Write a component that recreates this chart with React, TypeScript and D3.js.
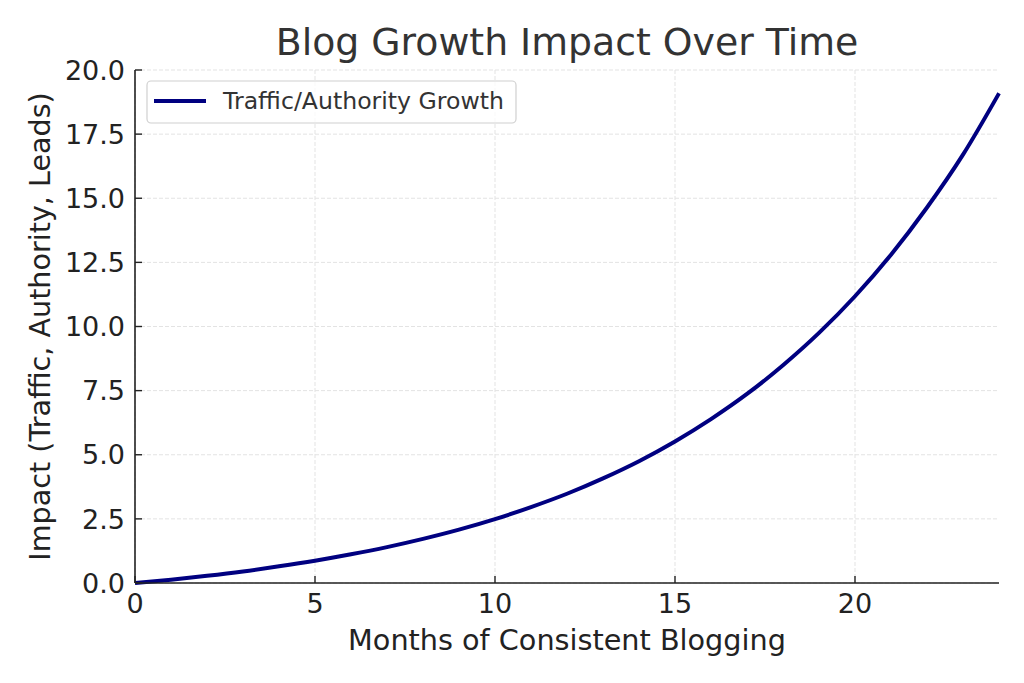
import React from "react";
import * as d3 from "d3";

const months = [0,1,2,3,4,5,6,7,8,9,10,11,12,13,14,15,16,17,18,19,20,21,22,23,24];
const impact = [0,0.13,0.28,0.45,0.65,0.87,1.12,1.40,1.72,2.08,2.49,2.96,3.48,4.08,4.75,5.52,6.39,7.37,8.49,9.75,11.18,12.80,14.64,16.70,19.09];
const xTicks = [0,5,10,15,20];
const yTicks = [0,2.5,5,7.5,10,12.5,15,17.5,20];
const title = "Blog Growth Impact Over Time";
const xLabel = "Months of Consistent Blogging";
const yLabel = "Impact (Traffic, Authority, Leads)";
const seriesName = "Traffic/Authority Growth";

export default function App() {
  const W = 1024, H = 683;
  const m = { left: 135, right: 999, top: 70, bottom: 583 };
  const x = d3.scaleLinear().domain([0, 24]).range([m.left, m.right]);
  const y = d3.scaleLinear().domain([0, 20]).range([m.bottom, m.top]);
  const pts = months.map((mo, i) => [mo, impact[i]] as [number, number]);
  const line = d3.line<[number, number]>().x(d => x(d[0])).y(d => y(d[1])).curve(d3.curveMonotoneX);
  const font = "DejaVu Sans, sans-serif";
  const tickColor = "#222";
  return (
    <svg width={W} height={H} style={{ position: "absolute", left: 0, top: 0, background: "#fff" }} fontFamily={font}>
      <rect x={0} y={0} width={W} height={H} fill="#fff" />
      {xTicks.map(t => (
        <line key={"gx" + t} x1={x(t)} x2={x(t)} y1={m.top} y2={m.bottom} stroke="#e3e3e3" strokeWidth={1} strokeDasharray="4,2" />
      ))}
      {yTicks.map(t => (
        <line key={"gy" + t} x1={m.left} x2={m.right} y1={y(t)} y2={y(t)} stroke="#e3e3e3" strokeWidth={1} strokeDasharray="4,2" />
      ))}
      <path d={line(pts) || ""} fill="none" stroke="#000080" strokeWidth={4} />
      <line x1={m.left} x2={m.left} y1={m.top} y2={m.bottom} stroke={tickColor} strokeWidth={1.6} />
      <line x1={m.left} x2={m.right} y1={m.bottom} y2={m.bottom} stroke={tickColor} strokeWidth={1.6} />
      {xTicks.map(t => (
        <g key={"tx" + t}>
          <line x1={x(t)} x2={x(t)} y1={m.bottom} y2={m.bottom - 7} stroke={tickColor} strokeWidth={1.4} />
          <text x={x(t)} y={613} textAnchor="middle" fontSize={27} fill={tickColor}>{d3.format("d")(t)}</text>
        </g>
      ))}
      {yTicks.map(t => (
        <g key={"ty" + t}>
          <line x1={m.left} x2={m.left + 7} y1={y(t)} y2={y(t)} stroke={tickColor} strokeWidth={1.4} />
          <text x={125} y={y(t)} dy="0.36em" textAnchor="end" fontSize={27} fill={tickColor}>{d3.format(".1f")(t)}</text>
        </g>
      ))}
      <text x={(m.left + m.right) / 2} y={55} textAnchor="middle" fontSize={37.8} fill="#333">{title}</text>
      <text x={(m.left + m.right) / 2} y={650} textAnchor="middle" fontSize={28.7} fill={tickColor}>{xLabel}</text>
      <text transform={`translate(50,${(m.top + m.bottom) / 2}) rotate(-90)`} textAnchor="middle" fontSize={28.6} fill={tickColor}>{yLabel}</text>
      <rect x={147} y={81} width={369} height={42} rx={4} fill="#fff" fillOpacity={0.8} stroke="#d0d0d0" strokeWidth={1.2} />
      <line x1={154} x2={206} y1={101} y2={101} stroke="#000080" strokeWidth={4} />
      <text x={223} y={109} fontSize={23.6} fill="#333">{seriesName}</text>
    </svg>
  );
}
